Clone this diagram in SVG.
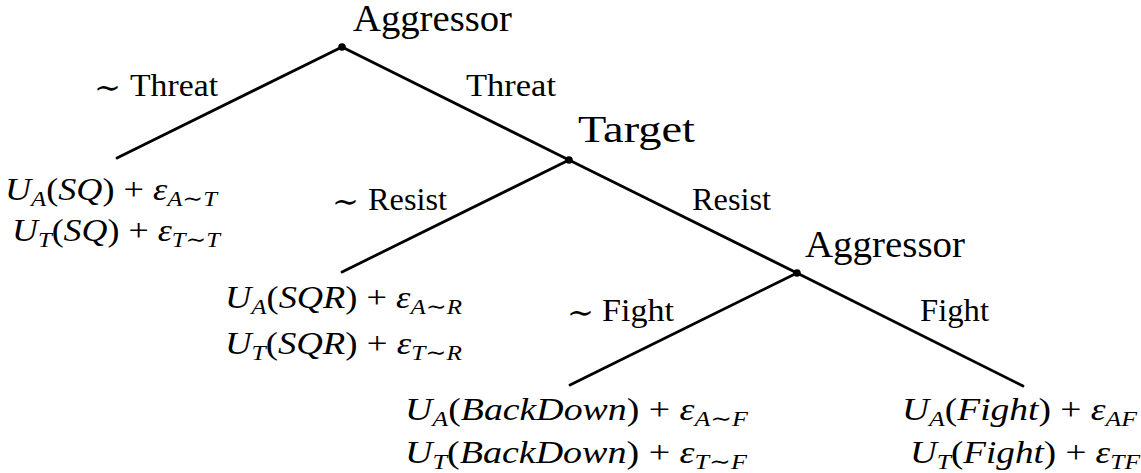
<svg xmlns="http://www.w3.org/2000/svg" width="1141" height="473" viewBox="0 0 1141 473">
<style>
.bg{fill:#fff}
.edge{stroke:#000;stroke-width:2.8;stroke-linecap:round;fill:none}
.dot{fill:#000}
text{font-family:'Liberation Serif','Times New Roman','DejaVu Serif',serif;fill:#000}
.node{font-size:37px}
.lbl{font-size:31px}
.sim{font-family:'DejaVu Serif','Liberation Serif',serif;font-size:31px}
.m{font-size:32px}
.i{font-style:italic}
.s{font-size:22px}
</style>
<rect class="bg" x="0" y="0" width="1141" height="473"/>
<g id="connectors">
<line class="edge" x1="342" y1="47" x2="117" y2="158"/>
<line class="edge" x1="342" y1="47" x2="569" y2="160"/>
<line class="edge" x1="569" y1="160" x2="342" y2="272"/>
<line class="edge" x1="569" y1="160" x2="797" y2="273"/>
<line class="edge" x1="797" y1="273" x2="570" y2="385"/>
<line class="edge" x1="797" y1="273" x2="1023" y2="386"/>
<text class="sim" x="94" y="98" textLength="27" lengthAdjust="spacingAndGlyphs">∼</text>
<text class="lbl" x="130" y="96" textLength="88" lengthAdjust="spacingAndGlyphs">Threat</text>
<text class="lbl" x="466" y="96" textLength="90" lengthAdjust="spacingAndGlyphs">Threat</text>
<text class="sim" x="332" y="212" textLength="27" lengthAdjust="spacingAndGlyphs">∼</text>
<text class="lbl" x="368" y="210" textLength="79" lengthAdjust="spacingAndGlyphs">Resist</text>
<text class="lbl" x="692" y="210" textLength="79" lengthAdjust="spacingAndGlyphs">Resist</text>
<text class="sim" x="567" y="323" textLength="27" lengthAdjust="spacingAndGlyphs">∼</text>
<text class="lbl" x="602" y="321" textLength="72" lengthAdjust="spacingAndGlyphs">Fight</text>
<text class="lbl" x="920" y="321" textLength="69" lengthAdjust="spacingAndGlyphs">Fight</text>
</g>
<g id="n1">
<circle class="dot" cx="342" cy="47" r="3.8"/>
<text class="node" x="353" y="31" textLength="159" lengthAdjust="spacingAndGlyphs">Aggressor</text>
</g>
<g id="n2">
<circle class="dot" cx="569" cy="160" r="3.8"/>
<text class="node" x="578" y="142" textLength="117" lengthAdjust="spacingAndGlyphs">Target</text>
</g>
<g id="n3">
<circle class="dot" cx="797" cy="273" r="3.8"/>
<text class="node" x="805" y="257" textLength="160" lengthAdjust="spacingAndGlyphs">Aggressor</text>
</g>
<g id="t1">
<text class="m" x="5" y="200" textLength="212" lengthAdjust="spacingAndGlyphs"><tspan class="i">U</tspan><tspan class="i s" dy="6">A</tspan><tspan dy="-6">(</tspan><tspan class="i">SQ</tspan><tspan>) + </tspan><tspan class="i">ε</tspan><tspan class="s" dy="6"><tspan class="i">A</tspan>∼<tspan class="i">T</tspan></tspan></text>
<text class="m" x="12" y="241" textLength="208" lengthAdjust="spacingAndGlyphs"><tspan class="i">U</tspan><tspan class="i s" dy="6">T</tspan><tspan dy="-6">(</tspan><tspan class="i">SQ</tspan><tspan>) + </tspan><tspan class="i">ε</tspan><tspan class="s" dy="6"><tspan class="i">T</tspan>∼<tspan class="i">T</tspan></tspan></text>
</g>
<g id="t2">
<text class="m" x="225" y="308" textLength="237" lengthAdjust="spacingAndGlyphs"><tspan class="i">U</tspan><tspan class="i s" dy="6">A</tspan><tspan dy="-6">(</tspan><tspan class="i">SQR</tspan><tspan>) + </tspan><tspan class="i">ε</tspan><tspan class="s" dy="6"><tspan class="i">A</tspan>∼<tspan class="i">R</tspan></tspan></text>
<text class="m" x="225" y="354" textLength="237" lengthAdjust="spacingAndGlyphs"><tspan class="i">U</tspan><tspan class="i s" dy="6">T</tspan><tspan dy="-6">(</tspan><tspan class="i">SQR</tspan><tspan>) + </tspan><tspan class="i">ε</tspan><tspan class="s" dy="6"><tspan class="i">T</tspan>∼<tspan class="i">R</tspan></tspan></text>
</g>
<g id="t3">
<text class="m" x="405" y="420" textLength="343" lengthAdjust="spacingAndGlyphs"><tspan class="i">U</tspan><tspan class="i s" dy="6">A</tspan><tspan dy="-6">(</tspan><tspan class="i">BackDown</tspan><tspan>) + </tspan><tspan class="i">ε</tspan><tspan class="s" dy="6"><tspan class="i">A</tspan>∼<tspan class="i">F</tspan></tspan></text>
<text class="m" x="405" y="463" textLength="342" lengthAdjust="spacingAndGlyphs"><tspan class="i">U</tspan><tspan class="i s" dy="6">T</tspan><tspan dy="-6">(</tspan><tspan class="i">BackDown</tspan><tspan>) + </tspan><tspan class="i">ε</tspan><tspan class="s" dy="6"><tspan class="i">T</tspan>∼<tspan class="i">F</tspan></tspan></text>
</g>
<g id="t4">
<text class="m" x="902" y="420" textLength="235" lengthAdjust="spacingAndGlyphs"><tspan class="i">U</tspan><tspan class="i s" dy="6">A</tspan><tspan dy="-6">(</tspan><tspan class="i">Fight</tspan><tspan>) + </tspan><tspan class="i">ε</tspan><tspan class="i s" dy="6">AF</tspan></text>
<text class="m" x="910" y="463" textLength="230" lengthAdjust="spacingAndGlyphs"><tspan class="i">U</tspan><tspan class="i s" dy="6">T</tspan><tspan dy="-6">(</tspan><tspan class="i">Fight</tspan><tspan>) + </tspan><tspan class="i">ε</tspan><tspan class="i s" dy="6">TF</tspan></text>
</g>
</svg>
